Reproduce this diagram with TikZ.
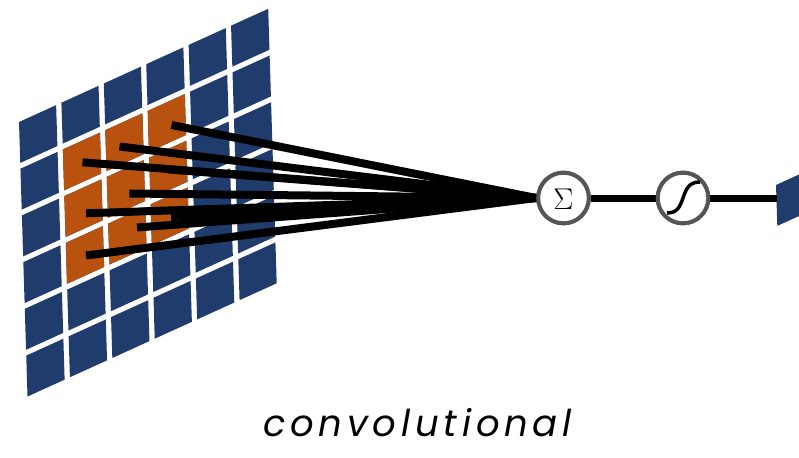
\documentclass[tikz,border=0pt]{standalone}
\usepackage{fontspec}
\newfontfamily\labelfont{Poppins}[LetterSpace=13]
\newfontfamily\greekfont{Latin Modern Roman}
\definecolor{cellblue}{HTML}{1F3C6D}
\definecolor{cellorange}{HTML}{BA520F}
\definecolor{ringgray}{HTML}{555555}
\tikzset{
  fan/.style={line width=8pt, black},
  link/.style={line width=7pt, black},
  neuron/.style={circle, draw=ringgray, line width=4pt, fill=white, minimum size=50.6pt, inner sep=0pt},
}
\begin{document}
\begin{tikzpicture}[x=1pt,y=-1pt]
\useasboundingbox (0,0) rectangle (799,457);
\clip (0,0) rectangle (799,457);
% grid
\begin{scope}[shift={(19pt,-122pt)}, x={(249.2pt,113.2pt)}, y={(8.5pt,-274.5pt)}]
\foreach \i in {0,...,5}{
  \foreach \j in {0,...,5}{
    \pgfmathsetmacro\a{\j*0.1702}
    \pgfmathsetmacro\b{\i*0.1702}
    \fill[cellblue] (\a,\b) -- ++(0.149,0) -- ++(0,0.149) -- ++(-0.149,0) -- cycle;
  }
}
\foreach \i in {1,2,3}{
  \foreach \j in {1,2,3}{
    \pgfmathsetmacro\a{\j*0.1702}
    \pgfmathsetmacro\b{\i*0.1702}
    \fill[cellorange] (\a,\b) -- ++(0.149,0) -- ++(0,0.149) -- ++(-0.149,0) -- cycle;
  }
}
\end{scope}
% output cell
\fill[cellblue] (776,185) -- ++(37.1,-16.9) -- ++(1.3,40.9) -- ++(-37.1,16.9) -- cycle;
\coordinate (outcell) at (776.5,198);
% start points
\coordinate (s1) at (171.5,125);
\coordinate (s2) at (119.5,146.5);
\coordinate (s3) at (82.5,162.3);
\coordinate (s4) at (129.3,193.5);
\coordinate (s5) at (86,213.3);
\coordinate (s6) at (171,217);
\coordinate (s7) at (137,227.5);
\coordinate (s8) at (86,255.5);
\coordinate (s9) at (168,169.4);
% neurons
\node[neuron] (sum) at (563.5,198) {};
\node[neuron] (act) at (683,198) {};
\foreach \s in {s1,s2,s3,s4,s5,s6,s7,s8,s9}{
  \draw[fan] (\s) -- (sum.west);
}
\draw[link] (sum.east) -- (act.west);
\draw[link] (act.east) -- (outcell);
\node[neuron] at (sum) {};
\node[neuron] at (act) {};
\node[inner sep=0pt] (sigma) at ([yshift=-1.5]sum.center) {\fontsize{30}{30}\selectfont\greekfont Σ};
\draw[line width=3.5pt] ([shift={(-16,15)}]act.center) .. controls ([shift={(-5,15)}]act.center) and ([shift={(-3,8)}]act.center) .. (act.center)
  .. controls ([shift={(3,-8)}]act.center) and ([shift={(5,-16)}]act.center) .. ([shift={(17,-16)}]act.center);
% label
\node[anchor=base, inner sep=0pt] (lbl) at (417.5,436.7) {\fontsize{37}{40}\selectfont\labelfont\itshape convolutional};
\end{tikzpicture}
\end{document}
